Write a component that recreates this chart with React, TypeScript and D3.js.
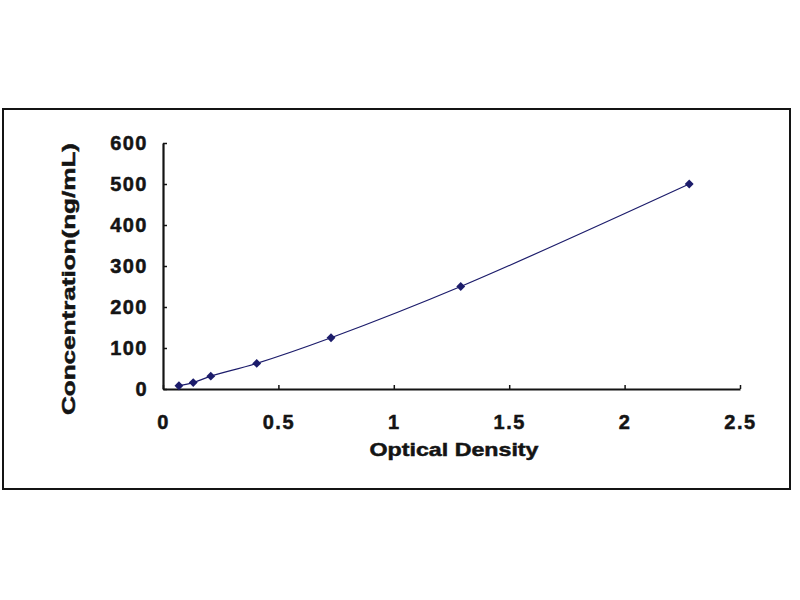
import * as d3 from 'd3';
import { useCallback } from 'react';

// standard curve points
const opticalDensity = [0.069, 0.131, 0.207, 0.406, 0.728, 1.29, 2.28];
const concentration = [7.8, 15.6, 31.25, 62.5, 125, 250, 500];
const xTicks = [0, 0.5, 1, 1.5, 2, 2.5];
const yTicks = [0, 100, 200, 300, 400, 500, 600];
const xTitle = 'Optical Density';
const yTitle = 'Concentration(ng/mL)';

const width = 800;
const height = 600;
const font = '"Liberation Sans", Arial, sans-serif';
const ink = '#141414';
const navy = '#1c1c6b';

const App = () => {
  const draw = useCallback((ref: SVGSVGElement | null) => {
    if (!ref) return;
    const svg = d3.select(ref);
    svg.selectAll('*').remove();

    svg.append('rect').attr('width', width).attr('height', height).attr('fill', '#fff');

    // outer frame
    svg
      .append('rect')
      .attr('x', 3)
      .attr('y', 109)
      .attr('width', 787)
      .attr('height', 380)
      .attr('fill', 'none')
      .attr('stroke', ink)
      .attr('stroke-width', 2);

    const xScale = d3.scaleLinear().domain([0, 2.5]).range([163, 740]);
    const yScale = d3.scaleLinear().domain([0, 600]).range([389, 143]);

    const xAxis = svg
      .append('g')
      .attr('transform', `translate(0, ${yScale(0)})`)
      .call(
        d3
          .axisBottom(xScale)
          .tickValues(xTicks)
          .tickFormat((d) => String(d))
          .tickSizeInner(-4)
          .tickSizeOuter(0)
          .tickPadding(26),
      );

    const yAxis = svg
      .append('g')
      .attr('transform', `translate(${xScale(0)}, 0)`)
      .call(
        d3
          .axisLeft(yScale)
          .tickValues(yTicks)
          .tickFormat((d) => String(d))
          .tickSizeInner(-4)
          .tickSizeOuter(0)
          .tickPadding(15),
      );

    [xAxis, yAxis].forEach((g) => {
      g.select('.domain').attr('stroke', ink).attr('stroke-width', 2.2);
      g.selectAll('.tick line').attr('stroke', ink).attr('stroke-width', 1.5);
      g.selectAll('.tick text')
        .attr('fill', ink)
        .attr('stroke', ink)
        .attr('stroke-width', 0.5)
        .style('font-family', font)
        .style('font-size', '20px')
        .style('font-weight', 'bold')
        .style('letter-spacing', '1.5px');
    });

    const points = opticalDensity.map((x, i) => [x, concentration[i]] as [number, number]);

    const line = d3
      .line<[number, number]>()
      .x((d) => xScale(d[0]))
      .y((d) => yScale(d[1]))
      .curve(d3.curveCatmullRom.alpha(0.5));

    svg
      .append('path')
      .attr('d', line(points))
      .attr('fill', 'none')
      .attr('stroke', navy)
      .attr('stroke-width', 1.2);

    const diamond = d3.symbol().type(d3.symbolDiamond2).size(50);
    svg
      .append('g')
      .selectAll('path')
      .data(points)
      .join('path')
      .attr('d', diamond)
      .attr('transform', (d) => `translate(${xScale(d[0])}, ${yScale(d[1])})`)
      .attr('fill', navy);

    svg
      .append('text')
      .attr('x', 454)
      .attr('y', 456)
      .attr('text-anchor', 'middle')
      .attr('textLength', 169)
      .attr('lengthAdjust', 'spacingAndGlyphs')
      .attr('fill', ink)
      .attr('stroke', ink)
      .attr('stroke-width', 0.5)
      .style('font-family', font)
      .style('font-size', '19px')
      .style('font-weight', 'bold')
      .text(xTitle);

    svg
      .append('text')
      .attr('transform', 'translate(75, 279) rotate(-90)')
      .attr('text-anchor', 'middle')
      .attr('textLength', 272)
      .attr('lengthAdjust', 'spacingAndGlyphs')
      .attr('fill', ink)
      .attr('stroke', ink)
      .attr('stroke-width', 0.5)
      .style('font-family', font)
      .style('font-size', '19px')
      .style('font-weight', 'bold')
      .text(yTitle);
  }, []);

  return (
    <div>
      <style>{`body { margin: 0; }`}</style>
      <svg width={width} height={height} ref={draw}></svg>
    </div>
  );
};

export default App;
